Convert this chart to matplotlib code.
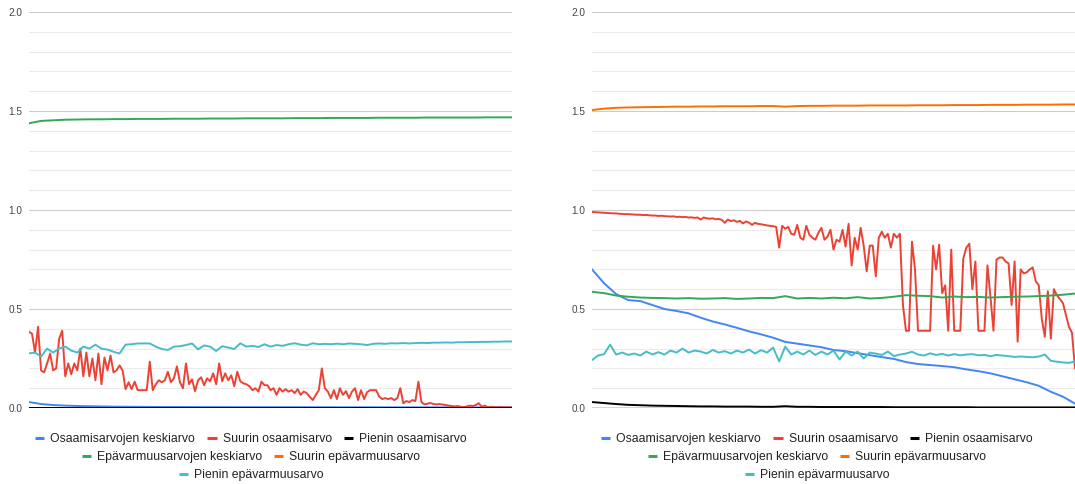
#!/usr/bin/env python3
"""Two line charts of skill / uncertainty statistics per row (Google Sheets look)."""

import numpy as np
import matplotlib

matplotlib.use("Agg")
import matplotlib.pyplot as plt
from matplotlib.lines import Line2D
from matplotlib.ticker import MultipleLocator, FormatStrFormatter

N_ROWS = 161

SERIES_LABELS = [
    "Osaamisarvojen keskiarvo",
    "Suurin osaamisarvo",
    "Pienin osaamisarvo",
    "Epävarmuusarvojen keskiarvo",
    "Suurin epävarmuusarvo",
    "Pienin epävarmuusarvo",
]
SERIES_COLORS = ["#4285F4", "#EA4335", "#000000", "#34A853", "#FF6D01", "#46BDC6"]

# ---- left chart ----
LEFT_MEAN_SKILL = [
    0.030, 0.020, 0.015, 0.012, 0.010, 0.009, 0.008, 0.007, 0.0065, 0.006,
    0.0055, 0.005, 0.005, 0.0048, 0.0046, 0.0045, 0.0044, 0.0043, 0.0042, 0.0042,
    0.0041, 0.004, 0.004, 0.0039, 0.0038, 0.0038, 0.0037, 0.0036, 0.0036, 0.0035,
    0.0035, 0.0034, 0.0034, 0.0033, 0.0033, 0.0032, 0.0032, 0.0031, 0.0031, 0.003,
    0.003,
]
LEFT_MAX_SKILL = [
    0.385, 0.375, 0.280, 0.410, 0.190, 0.180, 0.225, 0.275, 0.190, 0.200,
    0.350, 0.390, 0.160, 0.225, 0.170, 0.225, 0.190, 0.300, 0.160, 0.280,
    0.160, 0.250, 0.140, 0.275, 0.120, 0.255, 0.190, 0.265, 0.180, 0.190,
    0.215, 0.190, 0.095, 0.130, 0.095, 0.133, 0.090, 0.090, 0.090, 0.090,
    0.234, 0.090, 0.120, 0.140, 0.130, 0.140, 0.183, 0.130, 0.150, 0.210,
    0.130, 0.100, 0.225, 0.120, 0.145, 0.085, 0.140, 0.155, 0.115, 0.150,
    0.135, 0.175, 0.120, 0.225, 0.135, 0.175, 0.140, 0.165, 0.110, 0.183,
    0.135, 0.125, 0.120, 0.110, 0.090, 0.100, 0.083, 0.133, 0.115, 0.115,
    0.090, 0.100, 0.066, 0.100, 0.083, 0.095, 0.083, 0.090, 0.075, 0.095,
    0.066, 0.083, 0.075, 0.057, 0.040, 0.066, 0.090, 0.200, 0.100, 0.083,
    0.050, 0.090, 0.045, 0.100, 0.066, 0.085, 0.050, 0.083, 0.100, 0.040,
    0.090, 0.045, 0.080, 0.090, 0.090, 0.090, 0.058, 0.045, 0.050, 0.045,
    0.050, 0.040, 0.050, 0.100, 0.024, 0.035, 0.030, 0.040, 0.035, 0.133,
    0.030, 0.018, 0.022, 0.025, 0.020, 0.018, 0.020, 0.017, 0.015, 0.012,
    0.010, 0.008, 0.010, 0.006, 0.004, 0.008, 0.012, 0.010, 0.015, 0.024,
    0.006, 0.012, 0.003, 0.006, 0.004, 0.003, 0.005, 0.003, 0.004, 0.003,
    0.003,
]
LEFT_MIN_SKILL = [
    0.0, 0.0, 0.0, 0.0, 0.0, 0.0, 0.0, 0.0, 0.0, 0.0,
    0.0, 0.0, 0.0, 0.0, 0.0, 0.0, 0.0, 0.0, 0.0, 0.0,
    0.0, 0.0, 0.0, 0.0, 0.0, 0.0, 0.0, 0.0, 0.0, 0.0,
    0.0, 0.0, 0.0, 0.0, 0.0, 0.0, 0.0, 0.0, 0.0, 0.0,
    0.0,
]
LEFT_MEAN_UNCERT = [
    1.438, 1.450, 1.453, 1.456, 1.457, 1.458, 1.458, 1.459, 1.459, 1.460,
    1.460, 1.460, 1.461, 1.461, 1.461, 1.462, 1.462, 1.462, 1.463, 1.463,
    1.463, 1.463, 1.464, 1.464, 1.464, 1.465, 1.465, 1.465, 1.465, 1.466,
    1.466, 1.466, 1.466, 1.467, 1.467, 1.467, 1.467, 1.467, 1.468, 1.468,
    1.468,
]
LEFT_MAX_UNCERT = []
LEFT_MIN_UNCERT = [
    0.276, 0.280, 0.260, 0.300, 0.280, 0.300, 0.310, 0.290, 0.280, 0.310,
    0.300, 0.320, 0.300, 0.295, 0.284, 0.275, 0.320, 0.322, 0.326, 0.326,
    0.326, 0.310, 0.298, 0.293, 0.310, 0.312, 0.318, 0.326, 0.296, 0.316,
    0.310, 0.288, 0.312, 0.305, 0.298, 0.327, 0.310, 0.314, 0.308, 0.322,
    0.310, 0.318, 0.314, 0.322, 0.327, 0.320, 0.316, 0.327, 0.322, 0.324,
    0.322, 0.325, 0.322, 0.326, 0.324, 0.322, 0.318, 0.324, 0.326, 0.324,
    0.327, 0.326, 0.328, 0.326, 0.328, 0.329, 0.328, 0.330, 0.330, 0.331,
    0.330, 0.332, 0.332, 0.333, 0.333, 0.334, 0.334, 0.335, 0.335, 0.336,
    0.336,
]

# ---- right chart ----
RIGHT_MEAN_SKILL = [
    0.700, 0.630, 0.575, 0.545, 0.540, 0.520, 0.500, 0.490, 0.478, 0.456,
    0.437, 0.422, 0.405, 0.387, 0.372, 0.355, 0.334, 0.325, 0.316, 0.307,
    0.293, 0.287, 0.277, 0.267, 0.257, 0.248, 0.232, 0.222, 0.217, 0.212,
    0.206, 0.195, 0.186, 0.175, 0.160, 0.145, 0.130, 0.112, 0.082, 0.057,
    0.022,
]
RIGHT_MAX_SKILL = [
    0.990, 0.989, 0.988, 0.987, 0.986, 0.985, 0.984, 0.983, 0.983, 0.981,
    0.980, 0.979, 0.979, 0.978, 0.977, 0.976, 0.976, 0.974, 0.975, 0.973,
    0.972, 0.972, 0.970, 0.971, 0.969, 0.968, 0.967, 0.968, 0.965, 0.966,
    0.964, 0.965, 0.962, 0.963, 0.960, 0.962, 0.952, 0.962, 0.958, 0.956,
    0.958, 0.953, 0.955, 0.950, 0.935, 0.952, 0.944, 0.948, 0.940, 0.945,
    0.932, 0.942, 0.936, 0.925, 0.935, 0.930, 0.928, 0.925, 0.922, 0.920,
    0.918, 0.915, 0.810, 0.920, 0.905, 0.915, 0.880, 0.875, 0.925, 0.860,
    0.850, 0.920, 0.875, 0.860, 0.850, 0.885, 0.910, 0.850, 0.865, 0.900,
    0.800, 0.850, 0.840, 0.900, 0.815, 0.930, 0.720, 0.860, 0.800, 0.910,
    0.820, 0.690, 0.820, 0.820, 0.665, 0.860, 0.890, 0.860, 0.880, 0.810,
    0.880, 0.860, 0.880, 0.520, 0.390, 0.390, 0.840, 0.700, 0.390, 0.390,
    0.390, 0.390, 0.390, 0.820, 0.700, 0.825, 0.580, 0.620, 0.390, 0.800,
    0.390, 0.390, 0.390, 0.755, 0.810, 0.830, 0.600, 0.740, 0.390, 0.390,
    0.390, 0.720, 0.560, 0.390, 0.750, 0.760, 0.760, 0.740, 0.730, 0.520,
    0.740, 0.335, 0.700, 0.680, 0.685, 0.700, 0.710, 0.640, 0.620, 0.450,
    0.360, 0.590, 0.350, 0.600, 0.570, 0.550, 0.530, 0.470, 0.410, 0.380,
    0.200,
]
RIGHT_MIN_SKILL = [
    0.030, 0.025, 0.020, 0.016, 0.014, 0.012, 0.011, 0.010, 0.009, 0.008,
    0.008, 0.007, 0.007, 0.007, 0.006, 0.006, 0.009, 0.006, 0.006, 0.005,
    0.005, 0.005, 0.005, 0.005, 0.005, 0.004, 0.004, 0.004, 0.004, 0.004,
    0.004, 0.004, 0.003, 0.003, 0.003, 0.003, 0.003, 0.003, 0.003, 0.003,
    0.003,
]
RIGHT_MEAN_UNCERT = [
    0.587, 0.580, 0.568, 0.562, 0.558, 0.556, 0.555, 0.553, 0.555, 0.552,
    0.553, 0.555, 0.551, 0.553, 0.556, 0.555, 0.565, 0.553, 0.556, 0.553,
    0.557, 0.554, 0.560, 0.553, 0.556, 0.562, 0.570, 0.567, 0.565, 0.558,
    0.563, 0.560, 0.561, 0.558, 0.560, 0.562, 0.563, 0.565, 0.568, 0.572,
    0.578,
]
RIGHT_MAX_UNCERT = [
    1.505, 1.512, 1.516, 1.518, 1.519, 1.520, 1.521, 1.522, 1.522, 1.523,
    1.523, 1.524, 1.524, 1.524, 1.525, 1.525, 1.522, 1.525, 1.526, 1.526,
    1.527, 1.527, 1.527, 1.528, 1.528, 1.528, 1.528, 1.529, 1.529, 1.529,
    1.530, 1.530, 1.530, 1.531, 1.531, 1.531, 1.532, 1.532, 1.532, 1.533,
    1.533,
]
RIGHT_MIN_UNCERT = [
    0.242, 0.265, 0.272, 0.320, 0.270, 0.280, 0.268, 0.275, 0.265, 0.285,
    0.270, 0.282, 0.270, 0.290, 0.280, 0.300, 0.280, 0.290, 0.285, 0.275,
    0.293, 0.280, 0.287, 0.275, 0.290, 0.280, 0.295, 0.275, 0.292, 0.280,
    0.305, 0.235, 0.310, 0.270, 0.285, 0.270, 0.290, 0.268, 0.285, 0.270,
    0.290, 0.245, 0.285, 0.265, 0.285, 0.250, 0.280, 0.275, 0.268, 0.285,
    0.262, 0.270, 0.275, 0.284, 0.270, 0.265, 0.276, 0.268, 0.273, 0.265,
    0.272, 0.266, 0.270, 0.272, 0.266, 0.268, 0.262, 0.268, 0.265, 0.262,
    0.258, 0.260, 0.258, 0.256, 0.260, 0.270, 0.238, 0.234, 0.230, 0.228,
    0.235,
]

LEFT_SERIES = [LEFT_MEAN_SKILL, LEFT_MAX_SKILL, LEFT_MIN_SKILL,
               LEFT_MEAN_UNCERT, LEFT_MAX_UNCERT, LEFT_MIN_UNCERT]
RIGHT_SERIES = [RIGHT_MEAN_SKILL, RIGHT_MAX_SKILL, RIGHT_MIN_SKILL,
                RIGHT_MEAN_UNCERT, RIGHT_MAX_UNCERT, RIGHT_MIN_UNCERT]

FONT = "Liberation Sans"
LEGEND_ROWS = [[0, 1, 2], [3, 4], [5]]


def draw_panel(ax, series_list):
    for values, color in zip(series_list, SERIES_COLORS):
        xs = np.linspace(0, N_ROWS - 1, len(values)) if values else []
        ax.plot(xs, values, color=color, linewidth=1.4, solid_joinstyle="round")

    ax.set_xlim(0, N_ROWS - 1)
    ax.set_ylim(0, 2.0)
    ax.yaxis.set_major_locator(MultipleLocator(0.5))
    ax.yaxis.set_minor_locator(MultipleLocator(0.1))
    ax.yaxis.set_major_formatter(FormatStrFormatter("%.1f"))
    ax.grid(which="major", axis="y", color="#cccccc", linewidth=0.8)
    ax.grid(which="minor", axis="y", color="#ebebeb", linewidth=0.8)
    ax.set_axisbelow(True)
    ax.axhline(0, color="#333333", linewidth=1.0, zorder=1.5)
    for spine in ax.spines.values():
        spine.set_visible(False)
    ax.set_xticks([])
    ax.tick_params(axis="y", which="both", length=0, pad=4.5,
                   labelsize=7.2, labelcolor="#444444")
    for lbl in ax.get_yticklabels():
        lbl.set_fontfamily(FONT)


def draw_legend(fig, center_x):
    row_y = [1 - 439 / 484, 1 - 457 / 484, 1 - 475 / 484]
    for row, y in zip(LEGEND_ROWS, row_y):
        handles = [Line2D([], [], color=SERIES_COLORS[i], linewidth=2.2,
                          solid_capstyle="butt") for i in row]
        labels = [SERIES_LABELS[i] for i in row]
        fig.legend(handles, labels, loc="center", bbox_to_anchor=(center_x, y),
                   ncol=len(row), frameon=False, handlelength=0.75,
                   handletextpad=0.5, columnspacing=1.0, borderpad=0,
                   borderaxespad=0, prop={"family": FONT, "size": 8.8},
                   labelcolor="#222222")


def main():
    fig = plt.figure(figsize=(10.75, 4.84), dpi=100)
    ax_left = fig.add_axes([29 / 1075, 76 / 484, 483 / 1075, 396 / 484])
    ax_right = fig.add_axes([592 / 1075, 76 / 484, 483 / 1075, 396 / 484])

    draw_panel(ax_left, LEFT_SERIES)
    draw_panel(ax_right, RIGHT_SERIES)

    draw_legend(fig, 251 / 1075)
    draw_legend(fig, 817 / 1075)

    fig.savefig("out.png", dpi=100, facecolor="white")


if __name__ == "__main__":
    main()
